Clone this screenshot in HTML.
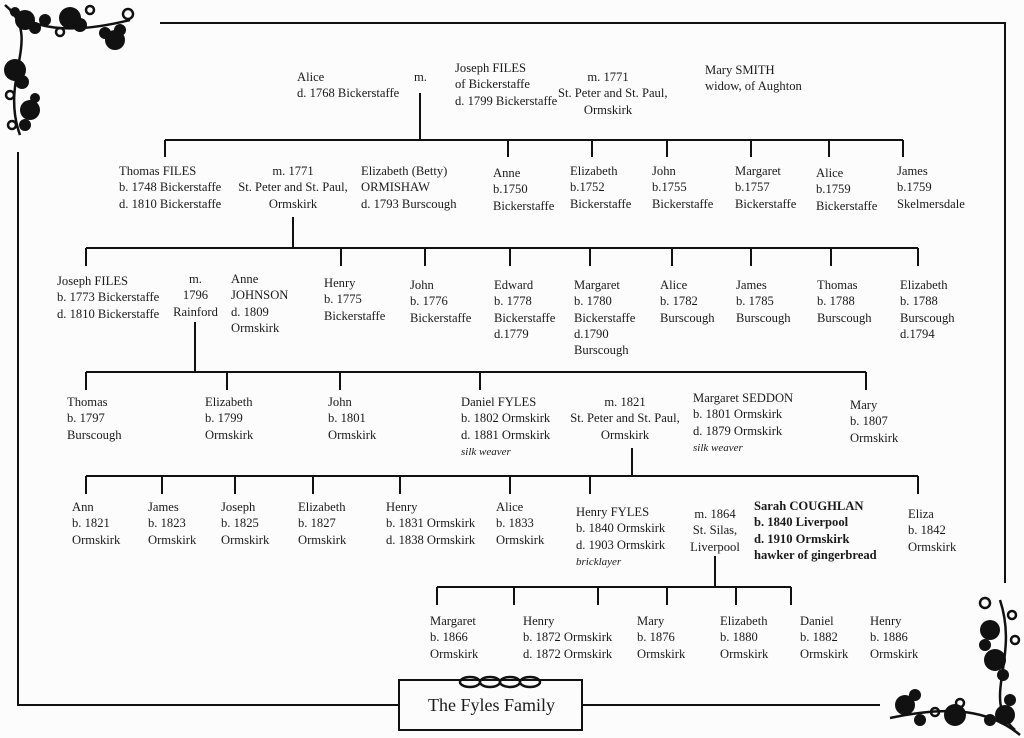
<!DOCTYPE html>
<html><head><meta charset="utf-8"><style>
body{margin:0;width:1024px;height:738px;background:#fcfcfd;position:relative;overflow:hidden;font-family:"Liberation Serif",serif;font-size:12.6px;line-height:16.3px;color:#1a1a1a}
.t{position:absolute;white-space:nowrap}
.c{text-align:center}
i{font-size:11px}
b{font-weight:bold}
svg{position:absolute;left:0;top:0}
</style></head><body>
<svg width="1024" height="738" stroke="#111" stroke-width="2" fill="none">
<path d="M160 23H1005V583"/>
<path d="M18 152V705H398M582 705H880"/>
<rect x="399" y="680" width="183" height="50" stroke-width="2"/>
<path d="M420 93V140M165 140H903M165 140V157M508 140V157M592 140V157M667 140V157M751 140V157M829 140V157M903 140V157"/>
<path d="M293 217V248M86 248H918M86 248V266M341 248V266M425 248V266M510 248V266M590 248V266M672 248V266M751 248V266M831 248V266M918 248V266"/>
<path d="M195 322V372M86 372H866M86 372V390M227 372V390M340 372V390M480 372V390M866 372V390"/>
<path d="M632 448V476M86 476H918M86 476V494M162 476V494M235 476V494M313 476V494M400 476V494M510 476V494M590 476V494M918 476V494"/>
<path d="M715 556V587M437 587H791M437 587V605M514 587V605M598 587V605M667 587V605M736 587V605M791 587V605"/>
<g stroke-width="2.5"><ellipse cx="470" cy="682" rx="10" ry="5"/><ellipse cx="490" cy="682" rx="10" ry="5"/><ellipse cx="510" cy="682" rx="10" ry="5"/><ellipse cx="530" cy="682" rx="10" ry="5"/></g>
<g fill="#111" stroke="none">
<circle cx="25" cy="20" r="10"/><circle cx="15" cy="12" r="5"/><circle cx="35" cy="28" r="6"/><circle cx="70" cy="18" r="11"/><circle cx="80" cy="25" r="7"/><circle cx="115" cy="40" r="10"/><circle cx="120" cy="30" r="6"/><circle cx="105" cy="33" r="6"/><circle cx="15" cy="70" r="11"/><circle cx="22" cy="82" r="7"/><circle cx="30" cy="110" r="10"/><circle cx="25" cy="125" r="6"/><circle cx="35" cy="98" r="5"/><circle cx="45" cy="20" r="6"/>
<circle cx="990" cy="630" r="10"/><circle cx="985" cy="645" r="6"/><circle cx="995" cy="660" r="11"/><circle cx="1003" cy="675" r="6"/><circle cx="905" cy="705" r="10"/><circle cx="915" cy="695" r="6"/><circle cx="955" cy="715" r="11"/><circle cx="1005" cy="715" r="10"/><circle cx="1010" cy="700" r="6"/><circle cx="920" cy="720" r="6"/><circle cx="990" cy="720" r="6"/>
</g>
<g stroke-width="2.5"><path d="M5 5C30 30 70 35 130 20M10 10C40 40 0 80 20 135"/><circle cx="128" cy="14" r="5"/><circle cx="60" cy="32" r="4"/><circle cx="10" cy="95" r="4"/><circle cx="90" cy="10" r="4"/><circle cx="12" cy="125" r="4"/>
<path d="M1020 735C990 710 950 705 890 718M1015 730C980 700 1020 660 1000 600"/><circle cx="985" cy="603" r="5"/><circle cx="960" cy="703" r="4"/><circle cx="1015" cy="640" r="4"/><circle cx="935" cy="712" r="4"/><circle cx="1012" cy="615" r="4"/></g>
</svg>
<div class="t" style="left:297px;top:69px">Alice<br>d. 1768 Bickerstaffe</div>
<div class="t" style="left:414px;top:69px">m.</div>
<div class="t" style="left:455px;top:60px">Joseph FILES<br>of Bickerstaffe<br>d. 1799 Bickerstaffe</div>
<div class="t c" style="left:558px;top:69px;width:100px">m. 1771<br>St. Peter and St. Paul,<br>Ormskirk</div>
<div class="t" style="left:705px;top:62px">Mary SMITH<br>widow, of Aughton</div>

<div class="t" style="left:119px;top:163px">Thomas FILES<br>b. 1748 Bickerstaffe<br>d. 1810 Bickerstaffe</div>
<div class="t c" style="left:233px;top:163px;width:120px">m. 1771<br>St. Peter and St. Paul,<br>Ormskirk</div>
<div class="t" style="left:361px;top:163px">Elizabeth (Betty)<br>ORMISHAW<br>d. 1793 Burscough</div>
<div class="t" style="left:493px;top:165px">Anne<br>b.1750<br>Bickerstaffe</div>
<div class="t" style="left:570px;top:163px">Elizabeth<br>b.1752<br>Bickerstaffe</div>
<div class="t" style="left:652px;top:163px">John<br>b.1755<br>Bickerstaffe</div>
<div class="t" style="left:735px;top:163px">Margaret<br>b.1757<br>Bickerstaffe</div>
<div class="t" style="left:816px;top:165px">Alice<br>b.1759<br>Bickerstaffe</div>
<div class="t" style="left:897px;top:163px">James<br>b.1759<br>Skelmersdale</div>

<div class="t" style="left:57px;top:273px">Joseph FILES<br>b. 1773 Bickerstaffe<br>d. 1810 Bickerstaffe</div>
<div class="t c" style="left:168px;top:271px;width:55px">m.<br>1796<br>Rainford</div>
<div class="t" style="left:231px;top:271px">Anne<br>JOHNSON<br>d. 1809<br>Ormskirk</div>
<div class="t" style="left:324px;top:275px">Henry<br>b. 1775<br>Bickerstaffe</div>
<div class="t" style="left:410px;top:277px">John<br>b. 1776<br>Bickerstaffe</div>
<div class="t" style="left:494px;top:277px">Edward<br>b. 1778<br>Bickerstaffe<br>d.1779</div>
<div class="t" style="left:574px;top:277px">Margaret<br>b. 1780<br>Bickerstaffe<br>d.1790<br>Burscough</div>
<div class="t" style="left:660px;top:277px">Alice<br>b. 1782<br>Burscough</div>
<div class="t" style="left:736px;top:277px">James<br>b. 1785<br>Burscough</div>
<div class="t" style="left:817px;top:277px">Thomas<br>b. 1788<br>Burscough</div>
<div class="t" style="left:900px;top:277px">Elizabeth<br>b. 1788<br>Burscough<br>d.1794</div>

<div class="t" style="left:67px;top:394px">Thomas<br>b. 1797<br>Burscough</div>
<div class="t" style="left:205px;top:394px">Elizabeth<br>b. 1799<br>Ormskirk</div>
<div class="t" style="left:328px;top:394px">John<br>b. 1801<br>Ormskirk</div>
<div class="t" style="left:461px;top:394px">Daniel FYLES<br>b. 1802 Ormskirk<br>d. 1881 Ormskirk<br><i>silk weaver</i></div>
<div class="t c" style="left:564px;top:394px;width:122px">m. 1821<br>St. Peter and St. Paul,<br>Ormskirk</div>
<div class="t" style="left:693px;top:390px">Margaret SEDDON<br>b. 1801 Ormskirk<br>d. 1879 Ormskirk<br><i>silk weaver</i></div>
<div class="t" style="left:850px;top:397px">Mary<br>b. 1807<br>Ormskirk</div>

<div class="t" style="left:72px;top:499px">Ann<br>b. 1821<br>Ormskirk</div>
<div class="t" style="left:148px;top:499px">James<br>b. 1823<br>Ormskirk</div>
<div class="t" style="left:221px;top:499px">Joseph<br>b. 1825<br>Ormskirk</div>
<div class="t" style="left:298px;top:499px">Elizabeth<br>b. 1827<br>Ormskirk</div>
<div class="t" style="left:386px;top:499px">Henry<br>b. 1831 Ormskirk<br>d. 1838 Ormskirk</div>
<div class="t" style="left:496px;top:499px">Alice<br>b. 1833<br>Ormskirk</div>
<div class="t" style="left:576px;top:504px">Henry FYLES<br>b. 1840 Ormskirk<br>d. 1903 Ormskirk<br><i>bricklayer</i></div>
<div class="t c" style="left:682px;top:506px;width:66px">m. 1864<br>St. Silas,<br>Liverpool</div>
<div class="t" style="left:754px;top:498px"><b>Sarah COUGHLAN<br>b. 1840 Liverpool<br>d. 1910 Ormskirk<br>hawker of gingerbread</b></div>
<div class="t" style="left:908px;top:506px">Eliza<br>b. 1842<br>Ormskirk</div>

<div class="t" style="left:430px;top:613px">Margaret<br>b. 1866<br>Ormskirk</div>
<div class="t" style="left:523px;top:613px">Henry<br>b. 1872 Ormskirk<br>d. 1872 Ormskirk</div>
<div class="t" style="left:637px;top:613px">Mary<br>b. 1876<br>Ormskirk</div>
<div class="t" style="left:720px;top:613px">Elizabeth<br>b. 1880<br>Ormskirk</div>
<div class="t" style="left:800px;top:613px">Daniel<br>b. 1882<br>Ormskirk</div>
<div class="t" style="left:870px;top:613px">Henry<br>b. 1886<br>Ormskirk</div>

<div class="t c" style="left:399px;top:694px;width:185px;font-size:18px;line-height:22px">The Fyles Family</div>
</body></html>
